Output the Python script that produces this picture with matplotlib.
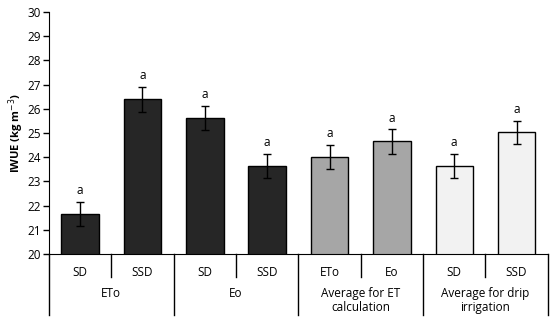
import matplotlib
matplotlib.use('Agg')
import matplotlib.pyplot as plt
import numpy as np

plt.rcParams['font.family'] = ['Open Sans', 'DejaVu Sans']

cats = ['SD', 'SSD', 'SD', 'SSD', 'ETo', 'Eo', 'SD', 'SSD']
values = [21.65, 26.4, 25.62, 23.65, 24.02, 24.65, 23.65, 25.03]
errors = [0.5, 0.52, 0.5, 0.5, 0.5, 0.5, 0.5, 0.48]
letters = ['a'] * 8
colors = ['#262626'] * 4 + ['#a6a6a6'] * 2 + ['#f2f2f2'] * 2
groups = ['ETo', 'Eo', 'Average for ET\ncalculation', 'Average for drip\nirrigation']

fig = plt.figure(figsize=(5.5, 3.24), dpi=100)
ax = fig.add_axes([0.089, 0.216, 0.907, 0.747])

x = np.arange(len(cats))
ax.bar(x, values, width=0.6, color=colors, edgecolor='black', linewidth=1)
ax.errorbar(x, values, yerr=errors, fmt='none', ecolor='black', elinewidth=1, capsize=3, capthick=1)
for xi, v, e, l in zip(x, values, errors, letters):
    ax.text(xi, v + e + 0.2, l, ha='center', va='bottom', fontsize=8.5)

ax.set_ylim(20, 30)
ax.set_xlim(-0.5, 7.5)
ax.set_yticks(range(20, 31))
ax.tick_params(axis='y', labelsize=8.5, length=4, width=1, direction='out', pad=2)
ax.set_xticks([])
for s in ['top', 'right']:
    ax.spines[s].set_visible(False)
ax.set_ylabel('IWUE (kg m$^{-3}$)', fontsize=8, fontweight='bold', labelpad=1)

tr = ax.get_xaxis_transform()
for xi, c in zip(x, cats):
    ax.text(xi, -0.05, c, transform=tr, ha='center', va='top', fontsize=8.5)
for i in range(len(cats) + 1):
    xb = i - 0.5
    y0 = -0.252 if i % 2 == 0 else -0.095
    ax.plot([xb, xb], [0, y0], transform=tr, color='black', lw=1, clip_on=False)
for gi, g in enumerate(groups):
    ax.text(2 * gi + 0.5, -0.135, g, transform=tr, ha='center', va='top', fontsize=8.5, linespacing=1.1)

fig.savefig('out.png', dpi=100)
